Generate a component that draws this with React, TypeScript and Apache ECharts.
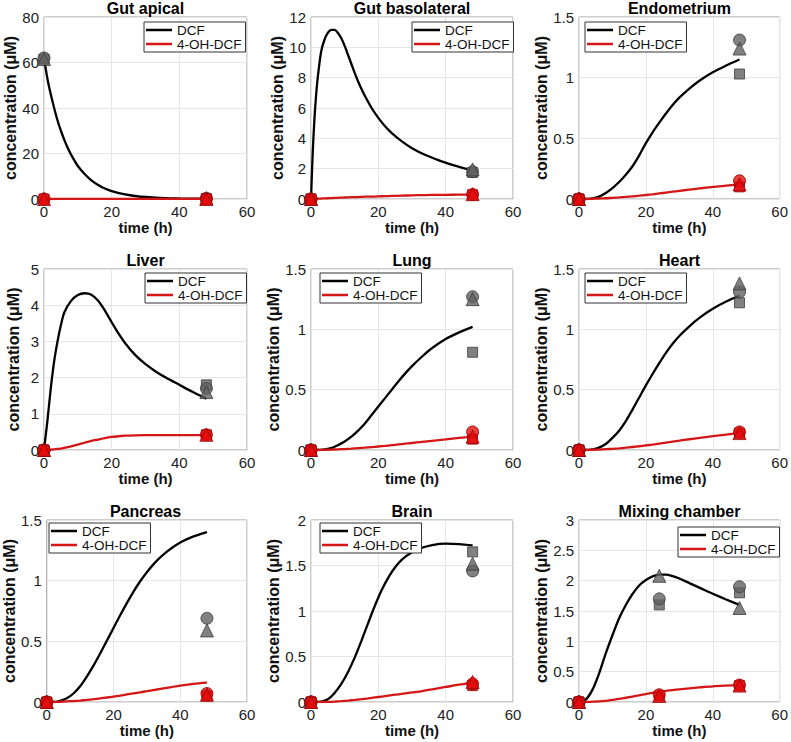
import React, { useEffect, useRef } from "react";
import * as echarts from "echarts";

// ---------- Data ----------
const TICK_X = [0, 20, 40, 60];

// Gut apical
const gutApicalT = [0, 1, 2, 3, 4, 5, 6, 7, 8, 10, 12, 14, 16, 18, 20, 24, 28, 32, 36, 40, 44, 48];
const gutApicalDcf = [62, 53, 46, 40, 34.5, 30, 26, 22.5, 19.5, 14.5, 11, 8.2, 6.2, 4.6, 3.5, 2.0, 1.1, 0.7, 0.4, 0.25, 0.15, 0.1];
const gutApicalOh = [0, 0, 0.01, 0.01, 0.01, 0.02, 0.02, 0.02, 0.02, 0.03, 0.03, 0.03, 0.04, 0.04, 0.04, 0.05, 0.05, 0.05, 0.06, 0.06, 0.06, 0.06];
const gutApicalObsT = [0, 48];
const gutApicalObsDcf = [[62, 61.5, 61.5], [0.3, 0.2, 0.4]]; // [circle, square, triangle]
const gutApicalObsOh = [[0, 0, 0], [0, 0, 0]];

// Gut basolateral
const gutBasoT = [0, 0.5, 1, 1.5, 2, 3, 4, 5, 6, 7, 8, 9, 10, 11, 12, 13, 14, 15, 16, 18, 20, 22, 24, 27, 30, 34, 38, 42, 45, 48];
const gutBasoDcf = [0, 3, 5.2, 6.8, 8.0, 9.7, 10.5, 10.95, 11.15, 11.15, 10.95, 10.6, 10.1, 9.5, 8.9, 8.3, 7.75, 7.25, 6.8, 6.0, 5.35, 4.8, 4.35, 3.8, 3.35, 2.9, 2.55, 2.25, 2.05, 1.88];
const gutBasoOh = [0, 0.01, 0.01, 0.02, 0.02, 0.03, 0.04, 0.05, 0.06, 0.07, 0.08, 0.09, 0.1, 0.11, 0.12, 0.12, 0.13, 0.14, 0.15, 0.16, 0.17, 0.19, 0.2, 0.22, 0.24, 0.26, 0.27, 0.28, 0.29, 0.3];
const gutBasoObsT = [0, 48];
const gutBasoObsDcf = [[0, 0, 0], [1.8, 1.75, 1.95]];
const gutBasoObsOh = [[0, 0, 0], [0.3, 0.28, 0.32]];

// Shared sampling for the slower organs
const organT = [0, 2, 4, 6, 8, 10, 12, 14, 16, 18, 20, 22, 24, 26, 28, 30, 33, 36, 40, 44, 48];

// Endometrium
const endoDcf = [0, 0, 0.005, 0.02, 0.05, 0.09, 0.14, 0.2, 0.27, 0.36, 0.46, 0.55, 0.63, 0.705, 0.775, 0.835, 0.91, 0.975, 1.045, 1.1, 1.15];
const endoOh = [0, 0, 0.002, 0.004, 0.006, 0.01, 0.013, 0.017, 0.022, 0.027, 0.033, 0.039, 0.046, 0.053, 0.06, 0.067, 0.077, 0.087, 0.1, 0.11, 0.12];
const endoObsT = [0, 48];
const endoObsDcf = [[0, 0, 0], [1.31, 1.03, 1.24]];
const endoObsOh = [[0, 0, 0], [0.15, 0.1, 0.12]];

// Liver
const liverT = [0, 1, 2, 3, 4, 5, 6, 8, 10, 12, 14, 16, 18, 20, 22, 24, 27, 30, 33, 36, 40, 44, 48];
const liverDcf = [0, 0.8, 1.7, 2.45, 3.0, 3.45, 3.8, 4.12, 4.28, 4.33, 4.29, 4.12, 3.85, 3.53, 3.22, 2.95, 2.62, 2.37, 2.17, 2.0, 1.8, 1.6, 1.42];
const liverOh = [0, 0.005, 0.01, 0.02, 0.03, 0.04, 0.06, 0.1, 0.15, 0.2, 0.25, 0.29, 0.33, 0.36, 0.38, 0.395, 0.405, 0.41, 0.41, 0.41, 0.41, 0.41, 0.41];
const liverObsT = [0, 48];
const liverObsDcf = [[0, 0, 0], [1.7, 1.8, 1.6]];
const liverObsOh = [[0, 0, 0], [0.42, 0.42, 0.42]];

// Lung
const lungDcf = [0, 0, 0.005, 0.015, 0.04, 0.07, 0.11, 0.16, 0.22, 0.29, 0.36, 0.43, 0.5, 0.57, 0.635, 0.695, 0.775, 0.845, 0.92, 0.975, 1.02];
const lungOh = [0, 0, 0.001, 0.003, 0.005, 0.008, 0.011, 0.015, 0.019, 0.024, 0.029, 0.034, 0.04, 0.046, 0.052, 0.058, 0.067, 0.076, 0.088, 0.1, 0.11];
const lungObsT = [0, 48];
const lungObsDcf = [[0, 0, 0], [1.27, 0.81, 1.25]];
const lungObsOh = [[0, 0, 0], [0.15, 0.09, 0.11]];

// Heart
const heartDcf = [0, 0, 0.005, 0.02, 0.05, 0.1, 0.16, 0.24, 0.335, 0.435, 0.535, 0.63, 0.72, 0.805, 0.88, 0.945, 1.025, 1.095, 1.17, 1.23, 1.28];
const heartOh = [0, 0, 0.002, 0.004, 0.007, 0.01, 0.014, 0.019, 0.025, 0.031, 0.038, 0.045, 0.053, 0.061, 0.069, 0.077, 0.089, 0.1, 0.115, 0.128, 0.14];
const heartObsT = [0, 48];
const heartObsDcf = [[0, 0, 0], [1.31, 1.22, 1.38]];
const heartObsOh = [[0, 0, 0], [0.15, 0.14, 0.14]];

// Pancreas
const pancDcf = [0, 0, 0.01, 0.03, 0.07, 0.13, 0.21, 0.3, 0.4, 0.505, 0.61, 0.715, 0.815, 0.91, 0.995, 1.07, 1.165, 1.24, 1.315, 1.365, 1.4];
const pancOh = [0, 0, 0.002, 0.005, 0.008, 0.012, 0.017, 0.023, 0.03, 0.037, 0.045, 0.053, 0.062, 0.071, 0.08, 0.089, 0.103, 0.117, 0.135, 0.15, 0.16];
const pancObsT = [0, 48];
const pancObsDcf = [[0, 0, 0], [0.69, null, 0.59]];
const pancObsOh = [[0, 0, 0], [0.07, 0.05, 0.06]];

// Brain
const brainT = [0, 3, 5, 7, 9, 11, 13, 15, 17, 19, 21, 23, 25, 27, 30, 33, 36, 40, 44, 48];
const brainDcf = [0, 0.005, 0.03, 0.1, 0.2, 0.33, 0.49, 0.675, 0.87, 1.06, 1.23, 1.37, 1.48, 1.565, 1.645, 1.695, 1.725, 1.74, 1.735, 1.72];
const brainOh = [0, 0, 0.002, 0.005, 0.01, 0.016, 0.023, 0.031, 0.04, 0.05, 0.06, 0.07, 0.08, 0.09, 0.105, 0.12, 0.14, 0.165, 0.19, 0.21];
const brainObsT = [0, 48];
const brainObsDcf = [[0, 0, 0], [1.44, 1.65, 1.52]];
const brainObsOh = [[0, 0, 0], [0.2, 0.18, 0.22]];

// Mixing chamber
const mixDcf = [0, 0.04, 0.2, 0.47, 0.8, 1.1, 1.38, 1.6, 1.78, 1.92, 2.01, 2.07, 2.1, 2.1, 2.075, 2.035, 1.96, 1.885, 1.785, 1.69, 1.6];
const mixOh = [0, 0, 0.005, 0.01, 0.02, 0.035, 0.05, 0.07, 0.09, 0.11, 0.13, 0.15, 0.167, 0.183, 0.197, 0.209, 0.225, 0.24, 0.258, 0.27, 0.28];
const mixObsT = [0, 24, 48];
const mixObsDcf = [[0, 0, 0], [1.7, 1.6, 2.08], [1.9, 1.8, 1.55]];
const mixObsOh = [[0, 0, 0], [0.12, 0.1, 0.1], [0.28, 0.27, 0.27]];

const TITLES = ["Gut apical", "Gut basolateral", "Endometrium", "Liver", "Lung", "Heart", "Pancreas", "Brain", "Mixing chamber"];
const Y_MAX = [80, 12, 1.5, 5, 1.5, 1.5, 1.5, 2, 3];
const Y_STEP = [20, 2, 0.5, 1, 0.5, 0.5, 0.5, 0.5, 0.5];
const LEGEND_NAMES = ["DCF", "4-OH-DCF"];

// ---------- Layout ----------
const COL_LEFT = [44, 311, 579];
const COL_WIDTH = [203, 202, 201];
const ROW_TOP = [17, 269, 520];
const ROW_HEIGHT = [182, 181, 182];
const TITLE_TOP = [0, 252, 503];
const LEGEND_POS = [
  [144, 22], [412, 22], [585, 22],
  [145, 273], [320, 273], [585, 273],
  [49, 523], [320, 523], [678, 527],
];

const FONT = "'Liberation Sans', Arial, Helvetica, sans-serif";
const BLACK = "#000000";
const RED = "#d41616";
const GREY_FILL = "#626262";
const GREY_EDGE = "#3c3c3c";
const RED_FILL = "#e30b0b";
const RED_EDGE = "#9a0000";
const SHAPES = ["circle", "rect", "triangle"];
const SHAPE_SIZE = [12, 10, 13];

const panels = [
  { t: gutApicalT, dcf: gutApicalDcf, oh: gutApicalOh, obsT: gutApicalObsT, obsDcf: gutApicalObsDcf, obsOh: gutApicalObsOh },
  { t: gutBasoT, dcf: gutBasoDcf, oh: gutBasoOh, obsT: gutBasoObsT, obsDcf: gutBasoObsDcf, obsOh: gutBasoObsOh },
  { t: organT, dcf: endoDcf, oh: endoOh, obsT: endoObsT, obsDcf: endoObsDcf, obsOh: endoObsOh },
  { t: liverT, dcf: liverDcf, oh: liverOh, obsT: liverObsT, obsDcf: liverObsDcf, obsOh: liverObsOh },
  { t: organT, dcf: lungDcf, oh: lungOh, obsT: lungObsT, obsDcf: lungObsDcf, obsOh: lungObsOh },
  { t: organT, dcf: heartDcf, oh: heartOh, obsT: heartObsT, obsDcf: heartObsDcf, obsOh: heartObsOh },
  { t: organT, dcf: pancDcf, oh: pancOh, obsT: pancObsT, obsDcf: pancObsDcf, obsOh: pancObsOh },
  { t: brainT, dcf: brainDcf, oh: brainOh, obsT: brainObsT, obsDcf: brainObsDcf, obsOh: brainObsOh },
  { t: organT, dcf: mixDcf, oh: mixOh, obsT: mixObsT, obsDcf: mixObsDcf, obsOh: mixObsOh },
];

function buildOption() {
  const grid: any[] = [];
  const xAxis: any[] = [];
  const yAxis: any[] = [];
  const title: any[] = [];
  const legend: any[] = [];
  const series: any[] = [];

  panels.forEach((p, i) => {
    const r = Math.floor(i / 3);
    const c = i % 3;
    grid.push({
      left: COL_LEFT[c],
      top: ROW_TOP[r],
      width: COL_WIDTH[c],
      height: ROW_HEIGHT[r],
      show: true,
      borderColor: "#9a9a9a",
      borderWidth: 1,
      backgroundColor: "#ffffff",
      containLabel: false,
    });
    xAxis.push({
      type: "value",
      gridIndex: i,
      min: TICK_X[0],
      max: TICK_X[TICK_X.length - 1],
      interval: 20,
      name: "time (h)",
      nameLocation: "middle",
      nameGap: 21,
      nameTextStyle: { fontFamily: FONT, fontSize: 15, fontWeight: "bold", color: "#111" },
      axisLine: { show: false },
      axisTick: { show: false },
      axisLabel: { fontFamily: FONT, fontSize: 15, color: "#222", margin: 5 },
      splitLine: { show: true, lineStyle: { color: "#e6e6e6", width: 1 } },
    });
    yAxis.push({
      type: "value",
      gridIndex: i,
      min: 0,
      max: Y_MAX[i],
      interval: Y_STEP[i],
      name: "concentration (μM)",
      nameLocation: "middle",
      nameGap: 23,
      nameTextStyle: { fontFamily: FONT, fontSize: 16, fontWeight: "bold", color: "#111" },
      axisLine: { show: false },
      axisTick: { show: false },
      axisLabel: { fontFamily: FONT, fontSize: 15, color: "#222", margin: 5 },
      splitLine: { show: true, lineStyle: { color: "#e6e6e6", width: 1 } },
    });
    title.push({
      text: TITLES[i],
      left: COL_LEFT[c] + COL_WIDTH[c] / 2,
      top: TITLE_TOP[r],
      textAlign: "center",
      padding: 0,
      textStyle: { fontFamily: FONT, fontSize: 16, fontWeight: "bold", color: "#000" },
    });
    legend.push({
      data: LEGEND_NAMES,
      left: LEGEND_POS[i][0],
      top: LEGEND_POS[i][1],
      orient: "vertical",
      icon: "rect",
      itemWidth: 26,
      itemHeight: 2.5,
      itemGap: 0,
      itemTextGap: 3,
      padding: [1, 4, 1, 2],
      borderColor: "#333",
      borderWidth: 1,
      borderRadius: 0,
      backgroundColor: "#ffffff",
      selectedMode: false,
      textStyle: { fontFamily: FONT, fontSize: 13.5, color: "#111", padding: [1, 0, 0, 0] },
    });

    series.push({
      name: "DCF",
      type: "line",
      xAxisIndex: i,
      yAxisIndex: i,
      data: p.t.map((t, k) => [t, p.dcf[k]]),
      showSymbol: false,
      symbol: "none",
      smooth: 0.3,
      itemStyle: { color: BLACK },
      lineStyle: { color: BLACK, width: 2.3 },
      z: 2,
    });
    series.push({
      name: "4-OH-DCF",
      type: "line",
      xAxisIndex: i,
      yAxisIndex: i,
      data: p.t.map((t, k) => [t, p.oh[k]]),
      showSymbol: false,
      symbol: "none",
      smooth: 0.3,
      itemStyle: { color: RED },
      lineStyle: { color: RED, width: 2.3 },
      z: 2,
    });
    const order = [1, 0, 2];
    order.forEach((s) => {
      series.push({
        name: "obs DCF " + SHAPES[s],
        type: "scatter",
        xAxisIndex: i,
        yAxisIndex: i,
        clip: false,
        symbol: SHAPES[s],
        symbolSize: SHAPE_SIZE[s],
        data: p.obsT
          .map((t, k) => [t, p.obsDcf[k][s]])
          .filter((d) => d[1] !== null && d[1] !== undefined),
        itemStyle: { color: GREY_FILL, borderColor: GREY_EDGE, borderWidth: 1 },
        z: 3,
      });
    });
    order.forEach((s) => {
      series.push({
        name: "obs OH " + SHAPES[s],
        type: "scatter",
        xAxisIndex: i,
        yAxisIndex: i,
        clip: false,
        symbol: SHAPES[s],
        symbolSize: SHAPE_SIZE[s],
        data: p.obsT
          .map((t, k) => [t, p.obsOh[k][s]])
          .filter((d) => d[1] !== null && d[1] !== undefined),
        itemStyle: { color: RED_FILL, borderColor: RED_EDGE, borderWidth: 1 },
        z: 4,
      });
    });
  });

  return {
    animation: false,
    backgroundColor: "#ffffff",
    grid,
    xAxis,
    yAxis,
    title,
    legend,
    series,
  };
}

export default function App() {
  const ref = useRef<HTMLDivElement>(null);
  useEffect(() => {
    if (!ref.current) return;
    const chart = echarts.init(ref.current, undefined, { renderer: "svg" });
    chart.setOption(buildOption());
    return () => chart.dispose();
  }, []);
  return (
    <div
      ref={ref}
      style={{ position: "fixed", left: 0, top: 0, width: 791, height: 742, background: "#fff" }}
    />
  );
}
